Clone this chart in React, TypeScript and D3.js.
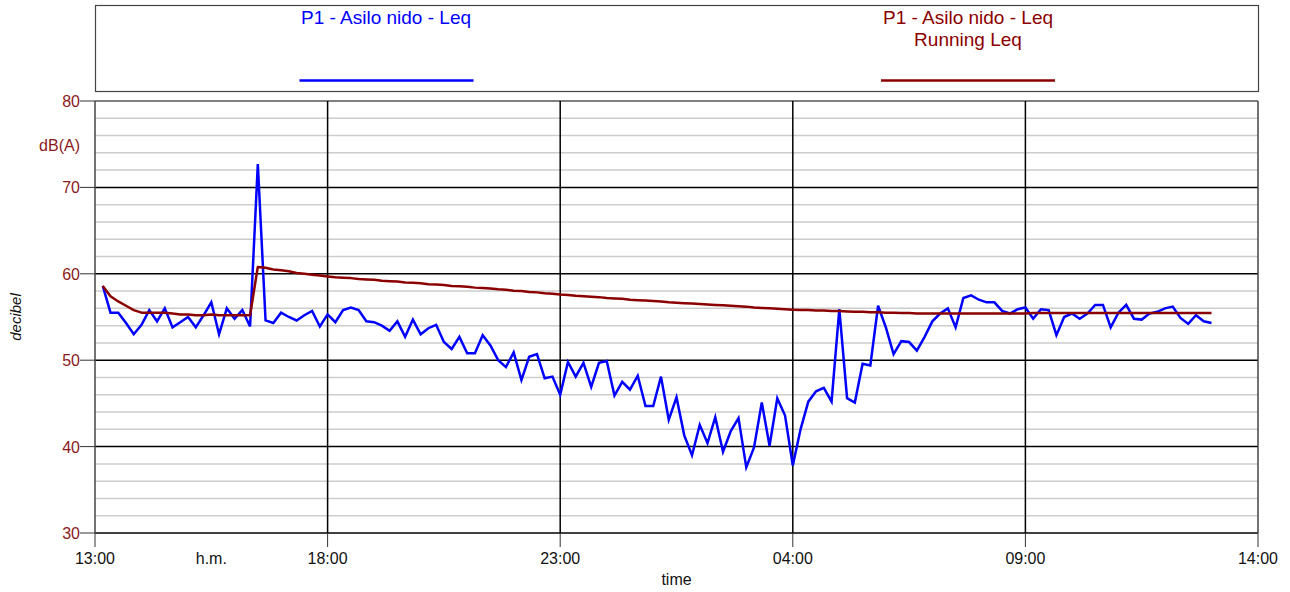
import React from "react";
import * as d3 from "d3";

// 10-minute Leq values, first sample 13:10, last 13:00 next day
const leqValues: number[] = [
  58.6, 55.5, 55.5, 54.3, 53.0, 54.1, 55.8, 54.5, 56.0, 53.8,
  54.4, 55.0, 53.8, 55.2, 56.7, 53.0, 56.0, 54.8, 55.8, 53.9,
  72.7, 54.6, 54.3, 55.5, 55.0, 54.6, 55.2, 55.7, 53.9, 55.3,
  54.4, 55.8, 56.1, 55.8, 54.5, 54.4, 54.0, 53.4, 54.5, 52.7,
  54.7, 53.0, 53.7, 54.1, 52.1, 51.3, 52.7, 50.8, 50.8, 52.9,
  51.7, 50.0, 49.2, 50.9, 47.7, 50.4, 50.7, 47.9, 48.1, 46.0,
  49.8, 48.1, 49.7, 46.9, 49.7, 49.9, 45.9, 47.5, 46.6, 48.2,
  44.7, 44.7, 48.1, 43.1, 45.7, 41.3, 39.0, 42.5, 40.4, 43.4,
  39.4, 41.8, 43.3, 37.6, 39.9, 45.1, 40.1, 45.6, 43.6, 37.8,
  42.0, 45.2, 46.4, 46.8, 45.2, 55.9, 45.6, 45.1, 49.6, 49.4,
  56.3, 53.8, 50.7, 52.2, 52.1, 51.1, 52.7, 54.5, 55.4, 56.0,
  53.8, 57.2, 57.5, 57.0, 56.7, 56.7, 55.7, 55.4, 55.9, 56.1,
  54.8, 55.9, 55.8, 52.9, 55.0, 55.4, 54.8, 55.4, 56.4, 56.4,
  53.8, 55.5, 56.4, 54.8, 54.7, 55.4, 55.6, 56.0, 56.2, 54.9,
  54.2, 55.2, 54.5, 54.3,
];

const runningLeqValues: number[] = [
  58.6, 57.4, 56.8, 56.3, 55.8, 55.5, 55.5, 55.5, 55.5, 55.4,
  55.3, 55.3, 55.2, 55.2, 55.3, 55.2, 55.2, 55.2, 55.2, 55.2,
  60.8, 60.7, 60.5, 60.4, 60.3, 60.1, 60.0, 59.9, 59.8, 59.7,
  59.6, 59.55, 59.5, 59.4, 59.35, 59.3, 59.2, 59.15, 59.1, 59.0,
  58.95, 58.9, 58.8, 58.75, 58.7, 58.6, 58.55, 58.5, 58.4, 58.35,
  58.3, 58.2, 58.15, 58.05, 58.0, 57.9, 57.85, 57.75, 57.7, 57.6,
  57.55, 57.45, 57.4, 57.35, 57.3, 57.2, 57.15, 57.1, 57.0, 56.95,
  56.9, 56.85, 56.8, 56.7, 56.65, 56.6, 56.55, 56.5, 56.45, 56.4,
  56.35, 56.3, 56.25, 56.2, 56.1, 56.05, 56.0, 55.95, 55.9, 55.85,
  55.8, 55.8, 55.75, 55.75, 55.7, 55.7, 55.65, 55.6, 55.6, 55.55,
  55.55, 55.5, 55.5, 55.45, 55.45, 55.4, 55.4, 55.4, 55.4, 55.4,
  55.4, 55.4, 55.4, 55.4, 55.4, 55.4, 55.4, 55.4, 55.4, 55.4,
  55.45, 55.45, 55.45, 55.45, 55.45, 55.45, 55.45, 55.45, 55.45, 55.45,
  55.45, 55.45, 55.45, 55.45, 55.45, 55.45, 55.45, 55.45, 55.45, 55.45,
  55.45, 55.45, 55.45, 55.45,
];

const startTime = new Date(2024, 0, 1, 13, 0);
const endTime = new Date(2024, 0, 2, 14, 0);
const sampleMinutes = 10;
const xTickLabels = ["13:00", "18:00", "23:00", "04:00", "09:00", "14:00"];
const yMajorTicks = [30, 40, 50, 60, 70, 80];
const seriesNames = ["P1 - Asilo nido - Leq", "P1 - Asilo nido - Leq"];
const seriesSub = ["", "Running Leq"];

const W = 1290;
const H = 592;
const M = { left: 95, right: 1258, top: 101, bottom: 533 };
const BLUE = "#0000ff";
const RED = "#8b0000";
const FONT = "'Liberation Sans', Arial, sans-serif";

export default function App() {
  const x = d3.scaleTime().domain([startTime, endTime]).range([M.left, M.right]);
  const y = d3.scaleLinear().domain([30, 80]).range([M.bottom, M.top]);
  const timeOf = (i: number) => d3.timeMinute.offset(startTime, (i + 1) * sampleMinutes);
  const line = d3
    .line<number>()
    .x((_, i) => x(timeOf(i)))
    .y((d) => y(d));

  const xTicks = xTickLabels.map((_, i) => d3.timeHour.offset(startTime, i * 5));
  const minorY = d3.range(32, 80, 2).filter((v) => v % 10 !== 0);

  return (
    <svg
      width={W}
      height={H}
      style={{ position: "absolute", left: 0, top: 0, display: "block", background: "#fff" }}
      fontFamily={FONT}
    >
      {/* Legend box */}
      <rect x={95.5} y={5.5} width={1163} height={86} fill="#fff" stroke="#444" strokeWidth={1.2} />
      <text x={386} y={23.5} fill={BLUE} fontSize={19} textAnchor="middle">{seriesNames[0]}</text>
      <line x1={299.5} x2={473.5} y1={80.5} y2={80.5} stroke={BLUE} strokeWidth={2.5} />
      <text x={968} y={23.5} fill={RED} fontSize={19} textAnchor="middle">{seriesNames[1]}</text>
      <text x={968} y={45.5} fill={RED} fontSize={19} textAnchor="middle">{seriesSub[1]}</text>
      <line x1={881} x2={1055} y1={80.5} y2={80.5} stroke={RED} strokeWidth={2.5} />

      {/* minor grid */}
      {minorY.map((v) => (
        <line key={"m" + v} x1={M.left} x2={M.right} y1={y(v)} y2={y(v)} stroke="#cdcdcd" strokeWidth={1.5} />
      ))}
      {/* major horizontal grid */}
      {yMajorTicks.map((v) => (
        <g key={"y" + v}>
          <line x1={M.left} x2={M.right} y1={y(v)} y2={y(v)} stroke={v === 80 ? "#555" : "#000"} strokeWidth={1.5} />
          <line x1={80} x2={M.left} y1={y(v)} y2={y(v)} stroke="#333" strokeWidth={1} />
          <text x={80} y={y(v) + 6} fill="#8b1a1a" fontSize={16} textAnchor="end">{v}</text>
        </g>
      ))}
      <text x={80} y={151} fill="#8b1a1a" fontSize={16} textAnchor="end">dB(A)</text>

      {/* vertical grid */}
      {xTicks.map((t, i) => (
        <g key={"x" + i}>
          <line x1={x(t)} x2={x(t)} y1={M.top} y2={M.bottom} stroke={i === 0 || i === xTicks.length - 1 ? "#444" : "#000"} strokeWidth={1.5} />
          <line x1={x(t)} x2={x(t)} y1={M.bottom} y2={547} stroke="#333" strokeWidth={1} />
          <text x={x(t)} y={564} fill="#111" fontSize={16} textAnchor="middle">{xTickLabels[i]}</text>
        </g>
      ))}
      <text x={(x(xTicks[0]) + x(xTicks[1])) / 2} y={564} fill="#111" fontSize={16} textAnchor="middle">h.m.</text>
      <text x={(M.left + M.right) / 2} y={585} fill="#111" fontSize={16} textAnchor="middle">time</text>
      <text
        transform={`translate(21, ${(M.top + M.bottom) / 2}) rotate(-90)`}
        fill="#111"
        fontSize={15}
        fontStyle="italic"
        textAnchor="middle"
      >
        decibel
      </text>

      {/* series */}
      <path d={line(leqValues) || ""} fill="none" stroke={BLUE} strokeWidth={2.5} strokeLinejoin="miter" />
      <path d={line(runningLeqValues) || ""} fill="none" stroke={RED} strokeWidth={2.5} strokeLinejoin="round" />
    </svg>
  );
}
